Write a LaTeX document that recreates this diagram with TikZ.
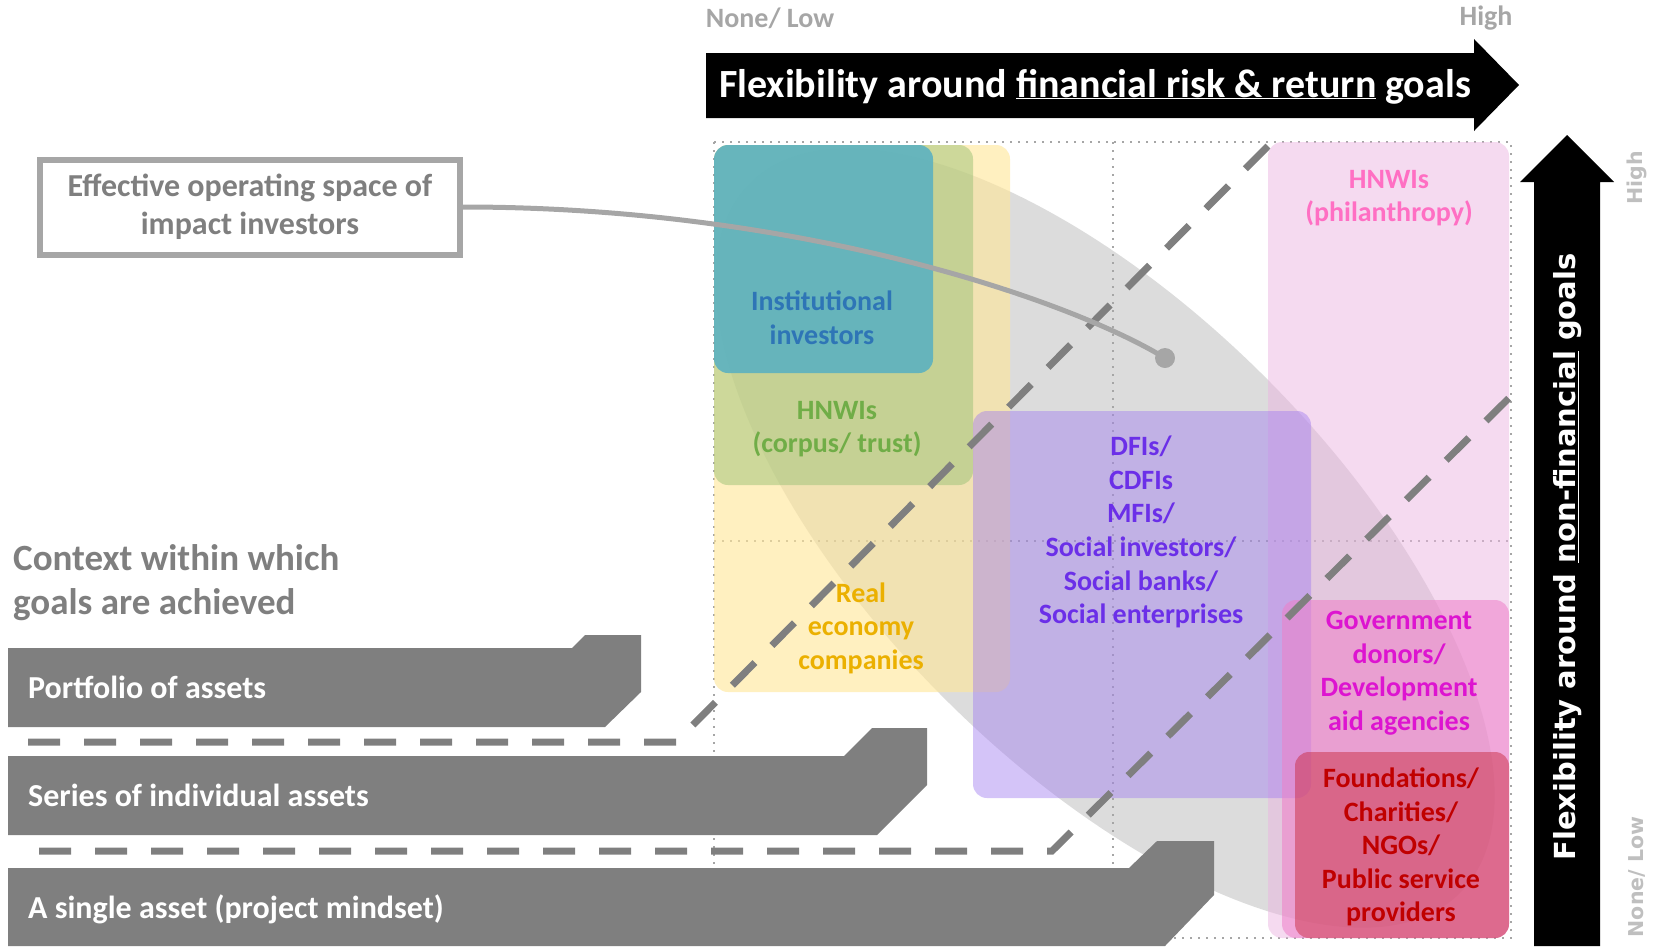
\documentclass[tikz,border=0pt]{standalone}
\usepackage{fontspec}
\setmainfont{Carlito}
\newfontfamily\widefont{DejaVu Sans}
\usetikzlibrary{positioning}

\definecolor{darkgrey}{HTML}{7F7F7F}
\definecolor{midgrey}{HTML}{A6A6A6}
\definecolor{palegrey}{HTML}{BFBFBF}
\definecolor{yellowfill}{HTML}{FFE699}
\definecolor{greenfill}{HTML}{9BC276}
\definecolor{tealfill}{HTML}{4BACC6}
\definecolor{philfill}{HTML}{EBB5E1}
\definecolor{purplefill}{HTML}{A07CF0}
\definecolor{govfill}{HTML}{EE7FC8}
\definecolor{redfill}{HTML}{C8283C}
\definecolor{insttext}{HTML}{2E75B6}
\definecolor{hnwitext}{HTML}{70AD47}
\definecolor{realtext}{HTML}{EBB000}
\definecolor{philtext}{HTML}{FF6FC3}
\definecolor{dfitext}{HTML}{6B2FE8}
\definecolor{govtext}{HTML}{DD14D0}
\definecolor{foundtext}{HTML}{C00000}

\begin{document}
\begin{tikzpicture}[x=1pt, y=-1pt,
    every node/.style = {align=center, inner sep=0pt},
    group/.style = {rounded corners=14pt},
    grouptext/.style = {font=\fontsize{28}{33.6}\selectfont\bfseries},
    bar/.style = {fill=darkgrey},
    bartext/.style = {anchor=base west, text=white,
      font=\fontsize{32}{38}\selectfont\bfseries},
    divider/.style = {draw=darkgrey, line width=7pt,
      dash pattern=on 32pt off 24pt},
    gridline/.style = {draw=midgrey, line width=2pt,
      dash pattern=on 2pt off 6pt},
    axislabel/.style = {text=midgrey, font=\fontsize{28}{32}\selectfont\bfseries},
    sidelabel/.style = {text=palegrey, rotate=90,
      font=\widefont\fontsize{20.5}{24}\selectfont\bfseries}]

  \useasboundingbox (0,0) rectangle (1657,946);

  % grid of the two axes
  \draw[gridline] (714,142) rectangle (1511,938);
  \draw[gridline] (1113,142) -- (1113,938);
  \draw[gridline] (714,541) -- (1511,541);

  % effective operating space, under the groups
  \fill[midgrey, opacity=0.39, rotate around={-45:(1105,538)}]
    (1105,538) ellipse [x radius=502pt, y radius=227pt];

  % investor groups
  \fill[group, yellowfill, opacity=0.62] (714,145) rectangle (1010,692);
  \fill[group, greenfill, opacity=0.5] (714,145) rectangle (973,485);
  \fill[group, tealfill, opacity=0.78] (714,145) rectangle (933,373);
  \fill[group, philfill, opacity=0.5] (1268,142) rectangle (1509,938);
  \fill[group, purplefill, opacity=0.45] (973,411) rectangle (1311,798);
  \fill[group, govfill, opacity=0.55] (1282,600) rectangle (1509,938);
  \fill[group, redfill, opacity=0.48] (1295,752) rectangle (1509,938);

  \node[grouptext, text=insttext] (inst) at (822,318) {Institutional\\investors};
  \node[grouptext, text=hnwitext] (corpus) at (837,429) {HNWIs\\(corpus/ trust)};
  \node[grouptext, text=realtext] (realeco) at (861,628) {Real\\economy\\companies};
  \node[grouptext, text=philtext] (phil) at (1389,198) {HNWIs\\(philanthropy)};
  \node[grouptext, text=dfitext] (dfi) at (1141,532)
    {DFIs/\\CDFIs\\MFIs/\\Social investors/\\Social banks/\\Social enterprises};
  \node[grouptext, text=govtext] (gov) at (1399,673)
    {Government\\donors/\\Development\\aid agencies};
  \node[grouptext, text=foundtext] (found) at (1401,847)
    {Foundations/\\Charities/\\NGOs/\\Public service\\providers};

  % dashed borders between contexts
  \draw[divider] (28,742) -- (676,742) -- (1271,143);
  \draw[divider] (39,851) -- (1052,851) -- (1511,396);

  % context bars
  \fill[bar] (8,648) -- (572,648) -- (585,635) -- (641,635) -- (641,692)
    -- (605,727) -- (8,727) -- cycle;
  \fill[bar] (8,756) -- (844,756) -- (872,728) -- (927,728) -- (927,785)
    -- (877,835) -- (8,835) -- cycle;
  \fill[bar] (8,868) -- (1129,868) -- (1157,841) -- (1214,841) -- (1214,895)
    -- (1165,946) -- (8,946) -- cycle;
  \node[bartext] (portfolio) at (28,698) {Portfolio of assets};
  \node[bartext] (series) at (28,806) {Series of individual assets};
  \node[bartext] (single) at (28,918) {A single asset (project mindset)};

  \node[anchor=base west, align=left, text=darkgrey,
    font=\fontsize{37}{44}\selectfont\bfseries] (context) at (13,614)
    {Context within which\\goals are achieved};

  % axes
  \fill (706,53) -- (1474,53) -- (1474,39) -- (1519,85) -- (1474,131)
    -- (1474,118) -- (706,118) -- cycle;
  \node[anchor=base, text=white, font=\fontsize{40}{46}\selectfont\bfseries]
    (xaxis) at (1095,97)
    {Flexibility around \underline{financial risk \& return} goals};
  \node[axislabel] (xlow) at (770,18) {None/ Low};
  \node[axislabel] (xhigh) at (1486,18) {High};

  \fill (1534,946) -- (1534,182) -- (1520,182) -- (1567,135) -- (1614,182)
    -- (1600,182) -- (1600,946) -- cycle;
  \node[rotate=90, text=white, font=\widefont\fontsize{29}{34}\selectfont\bfseries]
    (yaxis) at (1568,557) {Flexibility around \underline{non-financial} goals};
  \node[sidelabel] (yhigh) at (1637,178) {High};
  \node[sidelabel] (ylow) at (1637,877) {None/ Low};

  % effective operating space
  \node[draw=midgrey, line width=6pt, minimum width=420pt, minimum height=95pt,
    text=darkgrey, font=\fontsize{32}{38}\selectfont\bfseries]
    (effbox) at (250,207) {Effective operating space of\\impact investors};
  \node[circle, fill=midgrey, minimum size=20pt] (dot) at (1165,358) {};
  \draw[midgrey, line width=5pt] (effbox.east)
    .. controls (800,207) and (1070,300) .. (dot.center);
\end{tikzpicture}
\end{document}
